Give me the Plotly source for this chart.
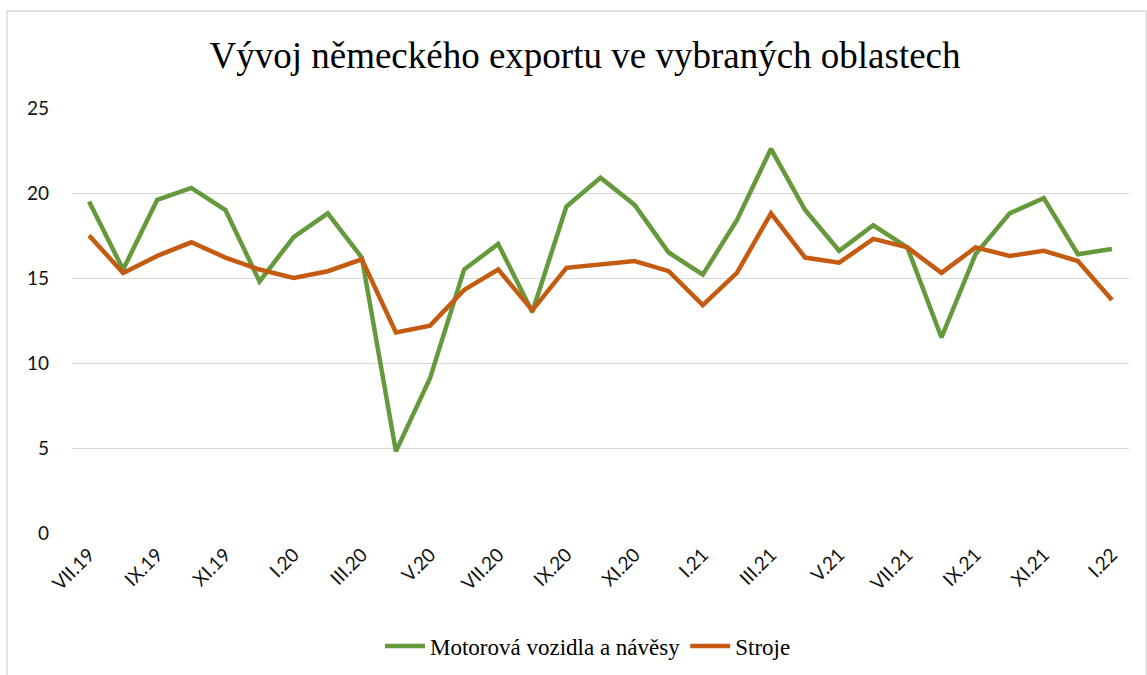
import plotly.graph_objects as go

months = ["VII.19", "VIII.19", "IX.19", "X.19", "XI.19", "XII.19",
          "I.20", "II.20", "III.20", "IV.20", "V.20", "VI.20",
          "VII.20", "VIII.20", "IX.20", "X.20", "XI.20", "XII.20",
          "I.21", "II.21", "III.21", "IV.21", "V.21", "VI.21",
          "VII.21", "VIII.21", "IX.21", "X.21", "XI.21", "XII.21",
          "I.22"]

motorova = [19.5, 15.5, 19.6, 20.3, 19.0, 14.8, 17.4, 18.8, 16.2, 4.8,
            9.1, 15.5, 17.0, 13.0, 19.2, 20.9, 19.3, 16.5, 15.2, 18.4,
            22.6, 19.0, 16.6, 18.1, 16.8, 11.5, 16.4, 18.8, 19.7, 16.4,
            16.7]

stroje = [17.5, 15.3, 16.3, 17.1, 16.2, 15.5, 15.0, 15.4, 16.1, 11.8,
          12.2, 14.3, 15.5, 13.1, 15.6, 15.8, 16.0, 15.4, 13.4, 15.3,
          18.8, 16.2, 15.9, 17.3, 16.8, 15.3, 16.8, 16.3, 16.6, 16.0,
          13.7]

y_ticks = [0, 5, 10, 15, 20, 25]

GREEN = "#64993C"
ORANGE = "#C55A11"

fig = go.Figure()
fig.add_trace(go.Scatter(x=months, y=motorova, mode="lines",
                         name="Motorová vozidla a návěsy",
                         line=dict(color=GREEN, width=4.5)))
fig.add_trace(go.Scatter(x=months, y=stroje, mode="lines",
                         name="Stroje",
                         line=dict(color=ORANGE, width=4.5)))

W, H = 1147, 675
L, R, T, B = 72, 1129, 108, 533

def px(x):
    return (x - L) / (R - L)

def py(y):
    return (B - y) / (B - T)

fig.update_layout(
    width=W, height=H,
    margin=dict(l=L, r=W - R, t=T, b=H - B, autoexpand=False),
    paper_bgcolor="white", plot_bgcolor="white",
    title=dict(text="Vývoj německého exportu ve vybraných oblastech",
               font=dict(family="Liberation Serif", size=37, color="#000000"),
               x=px(585), xref="paper", xanchor="center",
               y=1 - 55 / H, yref="container", yanchor="middle"),
    xaxis=dict(type="category", range=[-0.5, 30.5], dtick=2,
               tickangle=-45, showgrid=False, showline=False, ticks="",
               automargin=False, ticklabelstandoff=6,
               tickfont=dict(family="Lato", size=19, color="#111111")),
    yaxis=dict(range=[0, 25], tickvals=y_ticks, showgrid=True,
               gridcolor="#D9D9D9", gridwidth=1.3, zeroline=False,
               showline=False, ticks="", ticklabelstandoff=22,
               automargin=False,
               tickfont=dict(family="Lato", size=19, color="#111111")),
    legend=dict(orientation="h", x=px(588), xanchor="center",
                y=py(646), yanchor="middle",
                font=dict(family="Liberation Serif", size=23, color="#000000"),
                itemwidth=40, tracegroupgap=0, bgcolor="rgba(0,0,0,0)"),
    shapes=[dict(type="rect", xref="paper", yref="paper",
                 x0=px(7), x1=px(1146), y0=py(680), y1=py(11),
                 line=dict(color="#D9D9D9", width=1.5), layer="below")],
)

fig.write_html("out.html", post_script="document.body.style.margin='0';",
               config={"displayModeBar": False})
